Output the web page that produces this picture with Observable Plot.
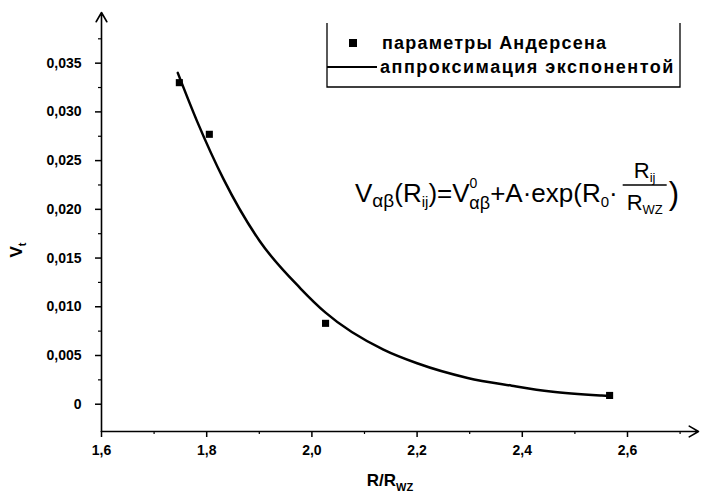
<!DOCTYPE html>
<html><head><meta charset="utf-8">
<script src="https://cdn.jsdelivr.net/npm/d3@7"></script>
<script src="https://cdn.jsdelivr.net/npm/@observablehq/plot@0.6"></script>
<style>body{margin:0;background:#fff} svg{display:block}</style>
</head><body><div id="chart"></div>
<script>
// Data points ("параметры Андерсена")
const pointX = [1.748, 1.805, 2.026, 2.566];
const pointY = [0.0330, 0.0277, 0.0083, 0.0009];
// Fitted curve ("аппроксимация экспонентой")
const fitX = [1.745, 1.782, 1.832, 1.900, 1.978, 2.026, 2.136, 2.200, 2.296, 2.380, 2.454, 2.549, 2.566];
const fitY = [0.0340, 0.0290, 0.0231, 0.0168, 0.0119, 0.0094, 0.0056, 0.0042, 0.0027, 0.0019, 0.0013, 0.0009, 0.00085];
// Ticks
const xTicks = [1.6, 1.8, 2.0, 2.2, 2.4, 2.6];
const xTickLabels = ["1,6", "1,8", "2,0", "2,2", "2,4", "2,6"];
const xMinor = [1.7, 1.9, 2.1, 2.3, 2.5, 2.7];
const yTicks = [0, 0.005, 0.010, 0.015, 0.020, 0.025, 0.030, 0.035];
const yTickLabels = ["0", "0,005", "0,010", "0,015", "0,020", "0,025", "0,030", "0,035"];
const yMinor = [0.0025, 0.0075, 0.0125, 0.0175, 0.0225, 0.0275, 0.0325, 0.0375];
// Axis extents (data units)
const xStart = 1.6, xEnd = 2.735, yBottom = -0.0028, yTop = 0.0402;

const points = pointX.map((x, i) => ({x, y: pointY[i]}));
const fit = fitX.map((x, i) => ({x, y: fitY[i]}));
const axes = [
  {x1: xStart, y1: yBottom, x2: xEnd, y2: yBottom},
  {x1: xStart, y1: yBottom, x2: xStart, y2: yTop}
];
const FONT = "'Liberation Sans', Arial, sans-serif";

const chart = Plot.plot({
  width: 702, height: 496,
  marginLeft: 101, marginRight: 4, marginTop: 12, marginBottom: 65,
  style: {fontFamily: FONT, color: "#000", background: "#fff"},
  x: {domain: [xStart, xEnd]},
  y: {domain: [yBottom, yTop]},
  marks: [
    Plot.axisX({ticks: xTicks, tickFormat: d => xTickLabels[xTicks.indexOf(d)], tickSize: 6, tickPadding: 8,
      fontSize: 14, fontWeight: "bold", label: null, strokeWidth: 1.5}),
    Plot.axisX({ticks: xMinor, tickFormat: () => "", tickSize: 3, label: null, strokeWidth: 1.2}),
    Plot.axisY({ticks: yTicks, tickFormat: d => yTickLabels[yTicks.indexOf(d)], tickSize: 6, tickPadding: 14,
      fontSize: 14, fontWeight: "bold", label: null, strokeWidth: 1.5}),
    Plot.axisY({ticks: yMinor, tickFormat: () => "", tickSize: 3, label: null, strokeWidth: 1.2}),
    Plot.arrow(axes, {x1: "x1", y1: "y1", x2: "x2", y2: "y2", stroke: "#000", strokeWidth: 1.6, headLength: 10}),
    Plot.line(fit, {x: "x", y: "y", stroke: "#000", strokeWidth: 2.5, curve: "monotone-x"}),
    Plot.dot(points, {x: "x", y: "y", symbol: "square", r: 4, fill: "#000"})
  ]
});
document.getElementById("chart").appendChild(chart);

const svg = d3.select(chart);
const g = svg.append("g").attr("font-family", FONT).attr("fill", "#000").attr("text-anchor", "start");

// Legend
g.append("path").attr("d", "M327,23V87H680V23").attr("fill", "none").attr("stroke", "#000").attr("stroke-width", 1.3);
g.append("rect").attr("x", 349).attr("y", 39).attr("width", 8).attr("height", 8);
g.append("text").attr("x", 382).attr("y", 43).attr("dy", "0.35em").attr("font-size", 18).attr("font-weight", "bold")
  .attr("letter-spacing", 1.2).text("параметры Андерсена");
g.append("line").attr("x1", 327).attr("x2", 377).attr("y1", 67).attr("y2", 67).attr("stroke", "#000").attr("stroke-width", 2);
g.append("text").attr("x", 380).attr("y", 67).attr("dy", "0.35em").attr("font-size", 18).attr("font-weight", "bold")
  .attr("letter-spacing", 1.5).text("аппроксимация экспонентой");

// Axis labels
const yl = g.append("text").attr("transform", "translate(22,250) rotate(-90)").attr("text-anchor", "middle")
  .attr("font-size", 17).attr("font-weight", "bold");
yl.append("tspan").text("V");
yl.append("tspan").attr("font-size", 11).attr("dy", 4).text("t");

const xl = g.append("text").attr("x", 390).attr("y", 486).attr("text-anchor", "middle")
  .attr("font-size", 17).attr("font-weight", "bold");
xl.append("tspan").text("R/R");
xl.append("tspan").attr("font-size", 11).attr("dy", 5).text("WZ");

// Equation
const eq = g.append("text").attr("x", 355).attr("y", 202).attr("font-size", 26);
const parts = [
  ["V", 26, 0, 0], ["αβ", 19, 0, 5], ["(R", 26, 0, -5], ["ij", 15, 0, 5], [")=V", 26, 0, -5],
  ["0", 14, 0, -14], ["αβ", 18, -8, 21], ["+A·exp(R", 26, 0, -7], ["0", 15, 0, 5], ["·", 26, 0, -5]
];
parts.forEach(([t, fs, dx, dy]) => eq.append("tspan").attr("font-size", fs).attr("dx", dx).attr("dy", dy).text(t));
const bb = eq.node().getBBox();
const fx = bb.x + bb.width + 5;
const num = g.append("text").attr("x", fx + 22).attr("y", 178).attr("text-anchor", "middle").attr("font-size", 22);
num.append("tspan").text("R");
num.append("tspan").attr("font-size", 13).attr("dy", 4).text("ij");
g.append("line").attr("x1", fx).attr("x2", fx + 44).attr("y1", 185).attr("y2", 185).attr("stroke", "#000").attr("stroke-width", 1.3);
const den = g.append("text").attr("x", fx + 22).attr("y", 210).attr("text-anchor", "middle").attr("font-size", 22);
den.append("tspan").text("R");
den.append("tspan").attr("font-size", 13).attr("dy", 4).text("WZ");
g.append("text").attr("x", fx + 46).attr("y", 204).attr("font-size", 31).text(")");
</script>
</body></html>
